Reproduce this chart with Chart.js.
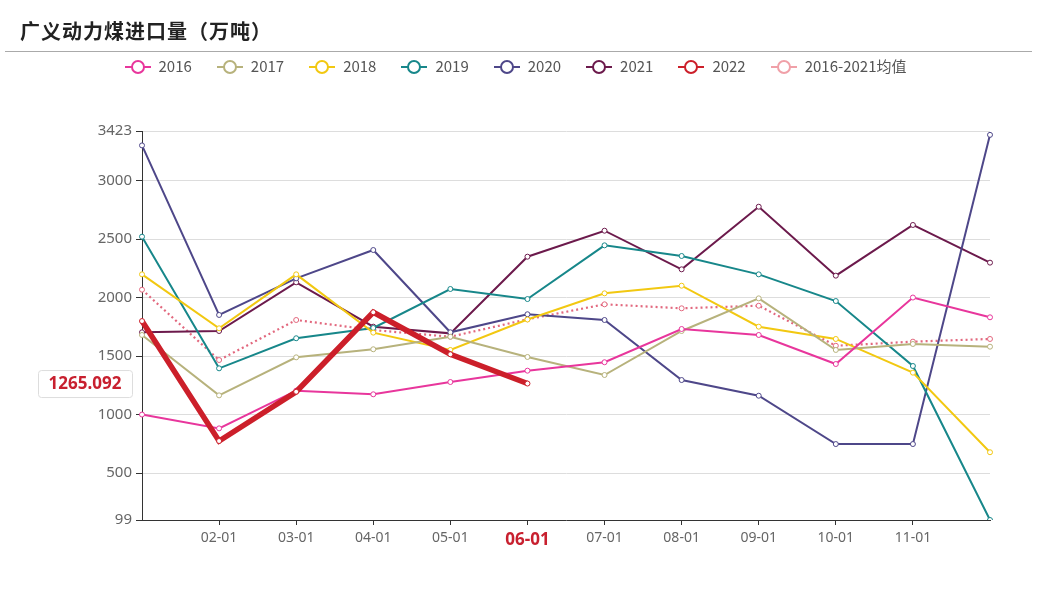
<!DOCTYPE html>
<html>
<head>
<meta charset="utf-8">
<script src="https://cdn.jsdelivr.net/npm/chart.js@4/dist/chart.umd.min.js"></script>
<style>
  html, body { margin: 0; padding: 0; background: #fff; }
  #wrap { position: relative; width: 1047px; height: 598px; overflow: hidden; }
  #title { position: absolute; left: 20px; top: 16px; font: bold 20px "Noto Sans CJK SC", sans-serif; color: #222; letter-spacing: 1px; }
  #rule { position: absolute; left: 5px; width: 1027px; top: 51px; height: 0; border-top: 1px solid #aaa; }
  #legend { position: absolute; left: 0; width: 1030px; top: 55px; text-align: center; font: 15px "Noto Sans CJK SC", sans-serif; color: #555; }
  .item { display: inline-block; margin: 0 12px; white-space: nowrap; }
  .item canvas { vertical-align: -3px; margin-right: 7px; }
  #chart { position: absolute; left: 0; top: 0; }
</style>
</head>
<body>
<div id="wrap">
  <canvas id="chart" width="1047" height="598"></canvas>
  <div id="title">广义动力煤进口量（万吨）</div>
  <div id="rule"></div>
  <div id="legend"></div>
</div>
<script>
// --- Dados ---
const labels = ['01-01', '02-01', '03-01', '04-01', '05-01', '06-01', '07-01', '08-01', '09-01', '10-01', '11-01', '12-01'];
const yTicks = [99, 500, 1000, 1500, 2000, 2500, 3000, 3423];

const y2016 = [1000, 882, 1204, 1173, 1278, 1375, 1447, 1731, 1680, 1432, 2000, 1831];
const y2017 = [1680, 1164, 1489, 1558, 1665, 1492, 1338, 1714, 1993, 1552, 1603, 1580];
const y2018 = [2198, 1737, 2198, 1700, 1552, 1812, 2036, 2101, 1751, 1646, 1358, 678];
const y2019 = [2520, 1395, 1652, 1740, 2073, 1987, 2446, 2355, 2198, 1970, 1415, 99];
const y2020 = [3300, 1851, 2164, 2406, 1703, 1857, 1808, 1295, 1161, 748, 748, 3390];
const y2021 = [1703, 1714, 2130, 1751, 1694, 2349, 2571, 2241, 2776, 2187, 2620, 2298];
const y2022 = [1799, 774, 1195, 1874, 1515, 1265.092];
const yAvg = [2067, 1466, 1808, 1722, 1665, 1814, 1942, 1908, 1930, 1588, 1623, 1646];

const highlightIndex = 5;      // 06-01
const highlightValue = 1265.092;

const series = [
    { name: '2016', data: y2016, color: '#e8369c' },
    { name: '2017', data: y2017, color: '#b7b27c' },
    { name: '2018', data: y2018, color: '#f2c811' },
    { name: '2019', data: y2019, color: '#17878a' },
    { name: '2020', data: y2020, color: '#4e4789' },
    { name: '2021', data: y2021, color: '#6c1a4c' },
    { name: '2022', data: y2022, color: '#cc1f2a', width: 5.5, order: 0 },
    { name: '2016-2021均值', data: yAvg, color: '#e2687e', dash: [2, 3], width: 2.2, legendColor: '#f0a0a8' }
];

// --- Legenda (HTML) ---
const legendEl = document.getElementById('legend');
series.forEach(s => {
    const span = document.createElement('span');
    span.className = 'item';
    const ic = document.createElement('canvas');
    ic.width = 28; ic.height = 16;
    const c = ic.getContext('2d');
    c.strokeStyle = s.legendColor || s.color;
    c.lineWidth = 2;
    c.beginPath(); c.moveTo(1, 8); c.lineTo(27, 8); c.stroke();
    c.fillStyle = '#fff';
    c.beginPath(); c.arc(14, 8, 6, 0, Math.PI * 2); c.fill(); c.stroke();
    span.appendChild(ic);
    span.appendChild(document.createTextNode(s.name));
    legendEl.appendChild(span);
});

// --- Rótulo do eixo (valor destacado) ---
const axisPointerLabel = {
    id: 'axisPointerLabel',
    afterDraw(chart) {
        const y = chart.scales.y.getPixelForValue(highlightValue);
        const ctx = chart.ctx;
        ctx.save();
        const x0 = 38, x1 = 132, h = 27;
        ctx.fillStyle = '#fff';
        ctx.strokeStyle = '#ddd';
        ctx.lineWidth = 1;
        ctx.beginPath();
        ctx.roundRect(x0 + 0.5, y - h / 2 + 0.5, x1 - x0, h, 3);
        ctx.fill(); ctx.stroke();
        ctx.fillStyle = '#c8202f';
        ctx.font = 'bold 17px "Noto Sans", sans-serif';
        ctx.textAlign = 'center';
        ctx.textBaseline = 'middle';
        ctx.fillText(String(highlightValue), (x0 + x1) / 2, y + 1);
        ctx.restore();
    }
};

new Chart(document.getElementById('chart'), {
    type: 'line',
    data: {
        labels: labels,
        datasets: series.map((s, i) => ({
            label: s.name,
            data: s.data,
            borderColor: s.color,
            backgroundColor: '#fff',
            borderWidth: s.width || 2,
            borderDash: s.dash || [],
            pointRadius: 2.5,
            pointBorderWidth: 1,
            pointBackgroundColor: '#fff',
            pointBorderColor: s.color,
            tension: 0,
            order: s.order !== undefined ? s.order : i + 1
        }))
    },
    plugins: [axisPointerLabel],
    options: {
        responsive: false,
        animation: false,
        layout: { padding: { top: 131, right: 57, left: 0, bottom: 0 } },
        plugins: {
            legend: { display: false },
            tooltip: { enabled: false }
        },
        scales: {
            x: {
                offset: false,
                afterFit: s => { s.height = 78; },
                border: { color: '#333', width: 1 },
                grid: {
                    drawOnChartArea: false,
                    tickLength: 5,
                    tickColor: ctx => (ctx.index === 0 || ctx.index === labels.length - 1) ? 'rgba(0,0,0,0)' : '#333'
                },
                ticks: {
                    autoSkip: false,
                    maxRotation: 0,
                    padding: 5,
                    callback: (v, i) => (i === 0 || i === labels.length - 1) ? '' : labels[i],
                    color: ctx => ctx.index === highlightIndex ? '#c8202f' : '#666',
                    font: ctx => ctx.index === highlightIndex
                        ? { family: '"Noto Sans", sans-serif', size: 17, weight: 'bold' }
                        : { family: '"Noto Sans", sans-serif', size: 14 }
                }
            },
            y: {
                min: yTicks[0],
                max: yTicks[yTicks.length - 1],
                afterFit: s => { s.width = 142; },
                afterBuildTicks: s => { s.ticks = yTicks.map(v => ({ value: v })); },
                border: { color: '#333', width: 1 },
                grid: {
                    color: '#ddd',
                    tickColor: '#333',
                    tickLength: 6
                },
                ticks: {
                    padding: 4,
                    color: '#666',
                    font: { family: '"Noto Sans", sans-serif', size: 15 },
                    callback: v => v
                }
            }
        }
    }
});
</script>
</body>
</html>
